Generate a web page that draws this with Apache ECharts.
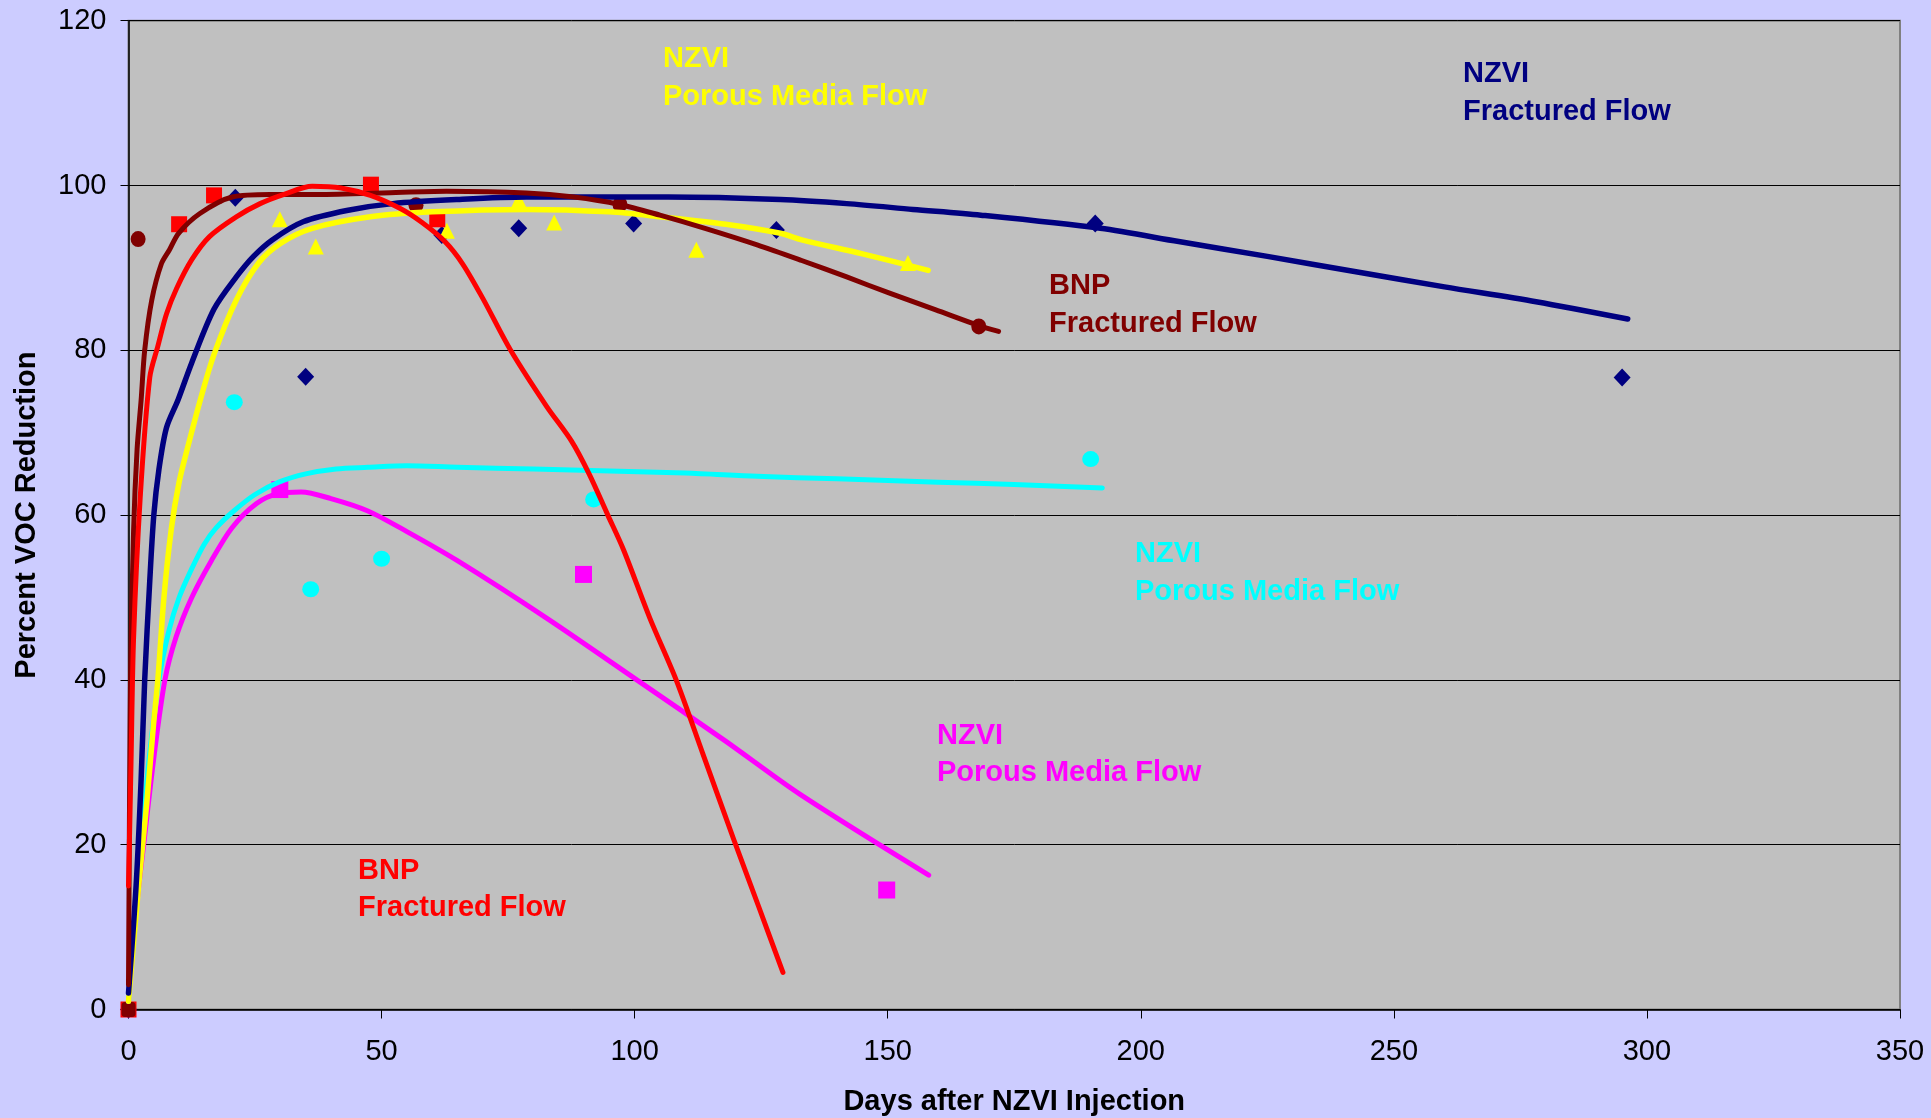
<!DOCTYPE html>
<html>
<head>
<meta charset="utf-8">
<script src="https://cdn.jsdelivr.net/npm/echarts@6/dist/echarts.min.js"></script>
<style>
html,body{margin:0;padding:0;background:#CCCCFF;}
#chart{width:1931px;height:1118px;}
</style>
</head>
<body>
<div id="chart"></div>
<script>
// ---------- axis ticks ----------
const xTicks = [0, 50, 100, 150, 200, 250, 300, 350];
const yTicks = [0, 20, 40, 60, 80, 100, 120];

// ---------- measured points [day, % reduction] ----------
const nzviFracPts = [[0,0],[21.1,98.5],[35,76.8],[61.9,94.0],[77.1,94.8],[99.8,95.4],[128,94.6],[191,95.4],[295.1,76.7]];
const nzviPorousYellowPts = [[29.9,95.9],[37,92.6],[62.9,94.5],[77.1,98.2],[84.1,95.5],[112.2,92.2],[154,90.6]];
const bnpFracRedPts = [[0,0],[10,95.3],[16.9,98.8],[47.9,100.1],[61,95.9]];
const bnpFracDarkPts = [[0,0],[1.9,93.5],[56.8,97.6],[97.1,97.7],[168,82.9]];
const nzviPorousCyanPts = [[20.9,73.7],[36,51.0],[50,54.7],[91.9,61.9],[190.1,66.8]];
const nzviPorousMagentaPts = [[29.9,63.1],[89.9,52.8],[149.8,14.5]];

// ---------- trend curves ----------
const nzviFracCurve = [[0,2],[1.5,15],[2.5,28],[3.2,40],[4.2,52],[5,60],[6,65.5],[7.5,70.6],[9.8,74],[12.5,78.5],[16.9,85],[21.3,88.9],[24.7,91.4],[28.4,93.4],[34.5,95.6],[43.4,97],[52.2,97.8],[65,98.3],[78.6,98.6],[106.6,98.6],[128.8,98.3],[141.9,97.8],[155,97.1],[168.4,96.4],[192,94.8],[207.5,93.2],[225,91.4],[242.8,89.5],[260,87.7],[278.1,85.9],[296.2,83.8]];
const nzviPorousYellowCurve = [[0,1],[2,15],[3.6,25],[5,35],[5.8,40],[7,50],[8.5,58.5],[10,64],[11.6,68],[14.2,74],[16.9,79.5],[21.3,86.1],[25.7,90.6],[30.1,93],[36.3,94.8],[47.8,96.2],[60,96.8],[78.6,97.1],[95,96.8],[105.1,96.2],[118,95.3],[128.8,94.2],[133,93.4],[145,91.7],[158,89.7]];
const bnpFracDarkCurve = [[0,3],[0.4,40],[1,58],[1.7,68],[2.5,74],[3.2,80],[4.6,86.1],[6.5,90.5],[8.1,92.2],[9.9,94.2],[14.1,96.6],[20.5,98.6],[28,98.9],[36.4,98.9],[50,99.1],[62.8,99.3],[78.6,99.1],[88,98.6],[97,97.7],[105,96.4],[113.9,94.8],[124.2,92.8],[133,90.9],[141.9,88.9],[150.5,86.9],[159.5,84.9],[168,83],[171.9,82.3]];
const bnpFracRedCurve = [[0,15],[0.5,30],[1,45],[2.3,62],[4.2,76.7],[5.8,80.5],[7.5,84.4],[9.5,87.5],[12.5,91],[16,93.8],[21.3,96.2],[26,97.8],[30.6,98.9],[36.3,99.9],[42,99.7],[47.8,98.8],[53.7,97.2],[58,95.5],[62.5,93.2],[66,90.5],[70,86.3],[75.5,80],[82.6,73.2],[87.5,69],[91,65],[94.7,60],[97.8,55.8],[103,47.5],[108.2,40],[113.5,31],[119.6,20.6],[124.5,12.5],[129.3,4.5]];
const nzviPorousCyanCurve = [[0,1],[1,9],[2.5,20],[4,30],[6,40],[8,46],[10,50],[12.5,53.5],[15,56.5],[17.4,58.5],[20.8,60.5],[25,62.5],[29.7,64],[35,65],[41,65.6],[47.3,65.8],[55,66],[65,65.8],[80,65.6],[91.4,65.4],[110,65.1],[124.2,64.7],[140,64.4],[160,64],[175,63.7],[192.4,63.3]];
const nzviPorousMagentaCurve = [[0,1],[1.5,12],[3,20],[5,30.5],[7.2,40],[9.4,45.2],[12.5,50],[16.4,54.5],[20.5,58.5],[25.3,61.4],[29.5,62.6],[34.1,62.8],[40,62],[47.3,60.5],[55,58],[64.9,54.5],[82.6,47.5],[100.2,40.1],[117.9,32.6],[132.7,26.1],[158.1,16.3]];

// ---------- annotation texts ----------
const labelNzviPorous = 'NZVI\nPorous Media Flow';
const labelNzviFrac = 'NZVI\nFractured Flow';
const labelBnpFrac = 'BNP\nFractured Flow';
const xTitle = 'Days after NZVI Injection';
const yTitle = 'Percent VOC Reduction';

const FONT = '"Liberation Sans", Arial, sans-serif';
const chart = echarts.init(document.getElementById('chart'), null, {renderer: 'canvas'});

function scatter(data, symbol, size, color) {
  return {type: 'scatter', data: data, symbol: symbol, symbolSize: size,
    itemStyle: {color: color, opacity: 1}, z: 2, silent: true};
}
function curve(data, color, w) {
  return {type: 'line', data: data, smooth: 0.3, showSymbol: false,
    lineStyle: {color: color, width: w, cap: 'round', join: 'round'}, z: 3, silent: true};
}
function note(text, color, left, top) {
  return {type: 'text', left: left, top: top, z: 10, silent: true,
    style: {text: text, fill: color, fontFamily: FONT, fontWeight: 'bold', fontSize: 29, lineHeight: 37.5}};
}

chart.setOption({
  backgroundColor: '#CCCCFF',
  animation: false,
  grid: {left: 128.5, right: 31, top: 20.7, bottom: 108.5, show: true,
    containLabel: false, outerBoundsMode: 'none',
    backgroundColor: '#C0C0C0', borderColor: '#808080', borderWidth: 2},
  xAxis: {
    type: 'value', min: xTicks[0], max: xTicks[xTicks.length - 1], interval: 50,
    axisLine: {show: true, onZero: false, lineStyle: {color: '#000', width: 1.5}},
    axisTick: {show: true, inside: false, length: 9, lineStyle: {color: '#000', width: 1}},
    axisLabel: {color: '#000', fontFamily: FONT, fontSize: 29, margin: 28},
    splitLine: {show: false},
    name: xTitle, nameLocation: 'middle', nameGap: 78,
    nameTextStyle: {color: '#000', fontFamily: FONT, fontWeight: 'bold', fontSize: 29}
  },
  yAxis: {
    type: 'value', min: yTicks[0], max: yTicks[yTicks.length - 1], interval: 20,
    axisLine: {show: true, lineStyle: {color: '#000', width: 1.5}},
    axisTick: {show: true, inside: false, length: 8, lineStyle: {color: '#000', width: 1}},
    axisLabel: {color: '#000', fontFamily: FONT, fontSize: 29, margin: 22},
    splitLine: {show: true, lineStyle: {color: '#000', width: 1}},
    name: yTitle, nameLocation: 'middle', nameGap: 87,
    nameTextStyle: {color: '#000', fontFamily: FONT, fontWeight: 'bold', fontSize: 29}
  },
  series: [
    scatter(nzviFracPts, 'diamond', [17, 18], '#000080'),
    scatter(nzviPorousYellowPts, 'triangle', [16, 16], '#FFFF00'),
    scatter(nzviPorousCyanPts, 'circle', [17, 16], '#00FFFF'),
    scatter(nzviPorousMagentaPts, 'rect', [17, 17], '#FF00FF'),
    scatter(bnpFracRedPts, 'rect', [16, 16], '#FF0000'),
    scatter(bnpFracDarkPts, 'roundRect', [14, 15], '#800000'),
    curve(nzviPorousMagentaCurve, '#FF00FF', 5),
    curve(nzviPorousCyanCurve, '#00FFFF', 5),
    curve(nzviPorousYellowCurve, '#FFFF00', 5.5),
    curve(nzviFracCurve, '#000080', 5.5),
    curve(bnpFracDarkCurve, '#800000', 5),
    curve(bnpFracRedCurve, '#FF0000', 5)
  ],
  graphic: [
    note(labelNzviPorous, '#FFFF00', 663, 40.5),
    note(labelNzviFrac, '#000080', 1463, 55.5),
    note(labelBnpFrac, '#800000', 1049, 267.5),
    note(labelNzviPorous, '#00FFFF', 1135, 535.5),
    note(labelNzviPorous, '#FF00FF', 937, 717),
    note(labelBnpFrac, '#FF0000', 358, 852)
  ]
});
// dark red measured points other than the origin are drawn as circles
chart.setOption({series: [{}, {}, {}, {}, {}, {
  data: bnpFracDarkPts.map(function (p, i) {
    return (p[0] === 0 && p[1] === 0) ? {value: p} : {value: p, symbol: 'circle', symbolSize: [15, 16]};
  })
}]});
</script>
</body>
</html>
